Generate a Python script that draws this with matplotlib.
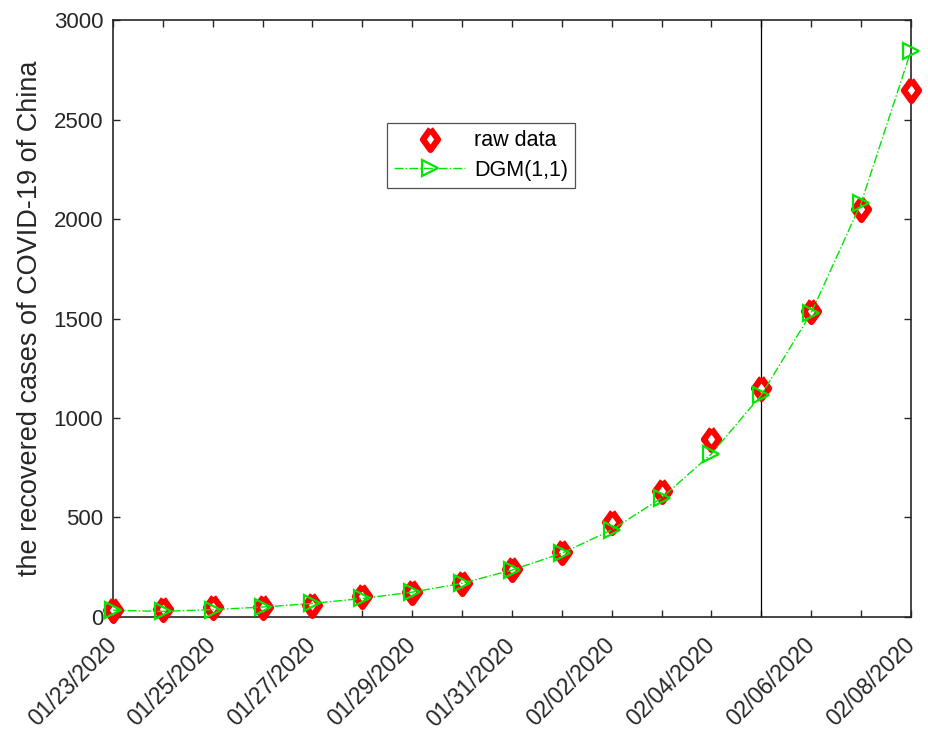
import matplotlib
matplotlib.use("Agg")
import matplotlib.pyplot as plt
import matplotlib.transforms as mtransforms

plt.rcParams['font.family'] = ['Liberation Sans', 'DejaVu Sans']

# daily recovered cases, China
dates = ['01/23/2020', '01/24/2020', '01/25/2020', '01/26/2020', '01/27/2020',
         '01/28/2020', '01/29/2020', '01/30/2020', '01/31/2020', '02/01/2020',
         '02/02/2020', '02/03/2020', '02/04/2020', '02/05/2020', '02/06/2020',
         '02/07/2020', '02/08/2020']
raw_data = [34, 38, 49, 51, 60, 103, 124, 171, 243, 328, 475, 632, 892, 1153, 1540, 2050, 2649]
dgm_fit = [34, 28, 37, 50, 68, 93, 125, 169, 236, 320, 438, 598, 820, 1116, 1528, 2080, 2845]
split_index = 13  # 02/05/2020, start of test period

x = list(range(len(dates)))
ink = '#262626'
green = '#00e600'

fig = plt.figure(figsize=(9.29, 7.36), dpi=100)
ax = fig.add_axes([0.1216, 0.1617, 0.8590, 0.8111])

diamond = [(0, 1), (0.72, 0), (0, -1), (-0.72, 0), (0, 1)]
ax.plot(x, raw_data, linestyle='none', marker=diamond, markersize=15,
        markerfacecolor='white', markeredgecolor='red', markeredgewidth=4.5,
        label='raw data', clip_on=False, zorder=3)
ax.plot(x, dgm_fit, linestyle='-.', color=green, linewidth=1.0, marker='>',
        markersize=11, markerfacecolor='none', markeredgecolor=green,
        markeredgewidth=1.6, label='DGM(1,1)', clip_on=False, zorder=4)

ax.axvline(split_index, color='black', linewidth=0.9, zorder=2)

ax.set_xlim(0, len(dates) - 1)
ax.set_ylim(0, 3000)
ax.set_yticks(range(0, 3001, 500))
ax.set_xticks(x)
ax.set_xticklabels([d if i % 2 == 0 else '' for i, d in enumerate(dates)],
                   rotation=45, ha='right', va='center', rotation_mode='anchor',
                   fontsize=16.5)
# nudge the rotated labels a little to the right, like MATLAB does
shift = mtransforms.ScaledTranslation(9 / 72, 0, fig.dpi_scale_trans)
for lbl in ax.get_xticklabels():
    lbl.set_transform(lbl.get_transform() + shift)

ax.set_ylabel('the recovered cases of COVID-19 of China', fontsize=19.5,
              color=ink, labelpad=8)

ax.tick_params(direction='in', length=5, width=1.0, top=True, right=True,
               colors=ink)
ax.tick_params(axis='y', pad=7, labelsize=16)
ax.tick_params(axis='x', pad=18)
for s in ax.spines.values():
    s.set_color(ink)
    s.set_linewidth(1.2)

leg = ax.legend(loc='upper left', bbox_to_anchor=(0.343, 0.828), fontsize=15.5,
                frameon=True, fancybox=False, edgecolor=ink, borderpad=0.35,
                handlelength=3.3, handletextpad=0.4, labelspacing=0.4,
                borderaxespad=0)
leg.get_frame().set_linewidth(0.9)

fig.savefig('out.png', dpi=100)
